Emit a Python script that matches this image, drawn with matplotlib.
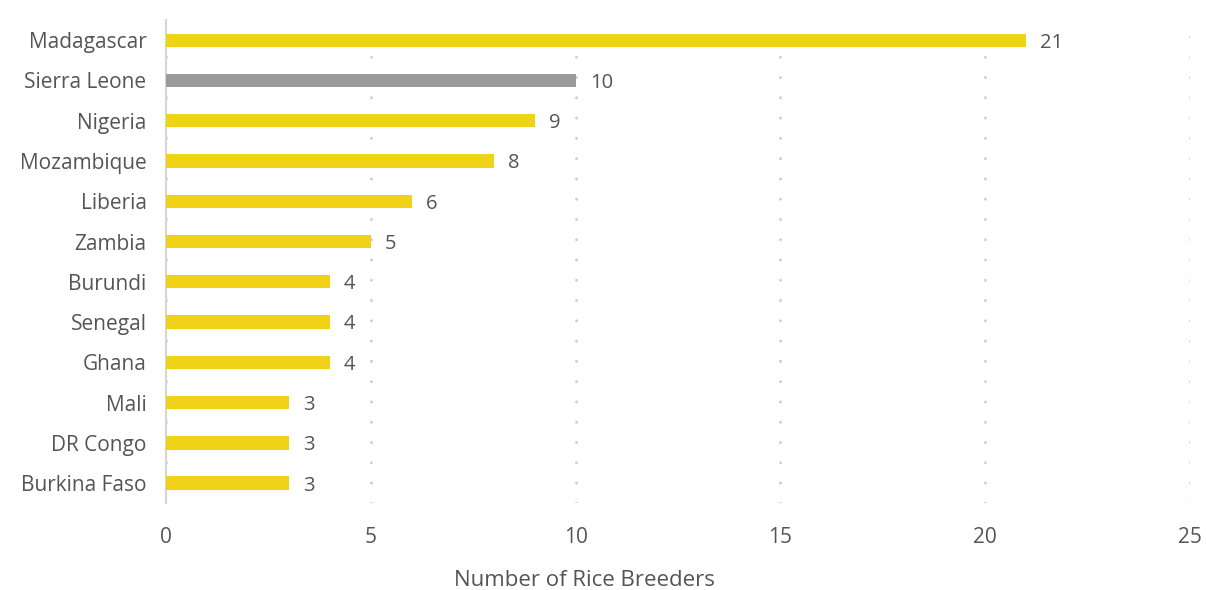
import matplotlib.pyplot as plt

countries = ["Madagascar", "Sierra Leone", "Nigeria", "Mozambique", "Liberia", "Zambia",
             "Burundi", "Senegal", "Ghana", "Mali", "DR Congo", "Burkina Faso"]
breeders = [21, 10, 9, 8, 6, 5, 4, 4, 4, 3, 3, 3]
highlight = "Sierra Leone"

yellow = "#F0D218"
grey = "#9B9B9B"
text_col = "#555555"

plt.rcParams["font.family"] = ["Open Sans", "DejaVu Sans"]

fig = plt.figure(figsize=(12.06, 5.9), dpi=100)
ax = fig.add_axes([0.1376, 0.147, 0.8491, 0.819])

ypos = list(range(len(countries)))
colors = [grey if c == highlight else yellow for c in countries]
ax.barh(ypos, breeders, height=0.33, color=colors, zorder=3)

for y, v in zip(ypos, breeders):
    ax.text(v + 0.35, y + 0.06, str(v), va="center", ha="left", fontsize=14.5, color=text_col)

ax.set_xlim(0, 25)
ax.set_ylim(len(countries) - 0.5, -0.5)
ax.set_yticks(ypos)
ax.set_yticklabels(countries)
ax.set_xticks([0, 5, 10, 15, 20, 25])

ax.tick_params(axis="both", length=0, labelsize=15, labelcolor=text_col)
ax.tick_params(axis="y", pad=14)
ax.tick_params(axis="x", pad=17)

for side in ["top", "right", "bottom"]:
    ax.spines[side].set_visible(False)
ax.spines["left"].set_color("#D6D6D6")
ax.spines["left"].set_linewidth(1.5)

# sparse dotted vertical gridlines
ax.xaxis.grid(True, color="#CCCCCC", linewidth=2.0, linestyle=(0, (0.1, 7.2)),
              dash_capstyle="round", zorder=0)
ax.set_axisbelow(True)

ax.set_xlabel("Number of Rice Breeders", fontsize=16, color=text_col, va="center")
ax.xaxis.set_label_coords(0.409, -0.16)

fig.savefig("out.png", dpi=100)
